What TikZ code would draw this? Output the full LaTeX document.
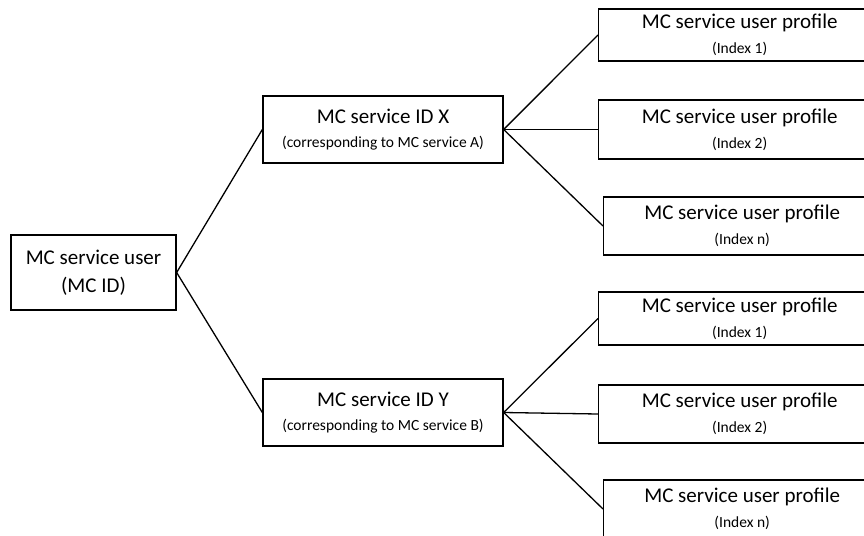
\documentclass[tikz,border=0pt]{standalone}
\usepackage{fontspec}
\setmainfont{Carlito}
\newcommand{\subfont}{\fontsize{15.5}{17}\selectfont}
\begin{document}
\begin{tikzpicture}[x=1pt,y=-1pt,
  box/.style={draw,line width=1.3pt,inner sep=0pt,align=center,font=\fontsize{21}{24}\selectfont},
  link/.style={line width=1.3pt}]
\useasboundingbox (0,0) rectangle (864,535);

\node[box,minimum width=165,minimum height=75] (user) at (93.5,272.5) {MC service user\\[4pt](MC ID)};

\node[box,minimum width=240,minimum height=67] (idx) at (383,129.5)
  {MC service ID X\\[0pt]{\subfont (corresponding to MC service A)}};
\node[box,minimum width=240,minimum height=67] (idy) at (383,412.5)
  {MC service ID Y\\[0pt]{\subfont (corresponding to MC service B)}};

% profile boxes, cut off by the right edge
\foreach \n/\yy/\ww/\hh/\xl/\lab in {1/35/282/52/598/1, 2/129.5/282/59/598/2, 3/226/277/58/603/n,
    4/318.5/282/53/598/1, 5/414/282/58/598/2, 6/509/277/58/603/n}
  \node[box,anchor=west,minimum width=\ww,minimum height=\hh] (p\n) at (\xl,\yy)
    {MC service user profile\\[1pt]{\subfont (Index \lab)}};

\draw[link] (user.east) -- (idx.west);
\draw[link] (user.east) -- (idy.west);
\foreach \n in {1,2,3}
  \draw[link] (idx.east) -- (p\n.west);
\foreach \n in {4,5,6}
  \draw[link] (idy.east) -- (p\n.west);
\end{tikzpicture}
\end{document}
